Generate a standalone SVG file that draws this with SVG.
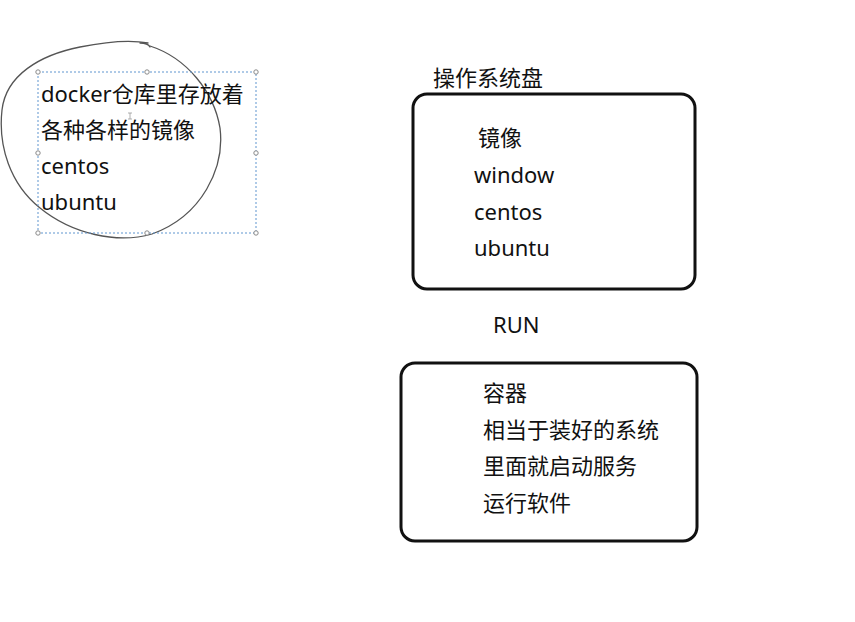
<svg xmlns="http://www.w3.org/2000/svg" width="855" height="622" viewBox="0 0 855 622">
<style>
text{font-family:"Noto Sans","Noto Sans CJK SC",sans-serif;font-size:22px;fill:#111}
.box{fill:none;stroke:#111;stroke-width:3}
.sel{fill:none;stroke:#5f95cf;stroke-width:1;stroke-dasharray:2 2}
.h{fill:#fff;stroke:#8a8a8a;stroke-width:1}
.pen{fill:none;stroke:#555;stroke-width:1.3;stroke-linecap:round}
</style>
<rect width="855" height="622" fill="#fff"/>
<g id="repo">
<path class="pen" d="M150 46 C187 58,214 92,220 128 C225 168,202 216,152 234 C117 244,72 234,40 208 C10 184,-2 146,2 110 C6 75,40 55,80 47 C110 41,132 40,148 43"/>
<path class="pen" d="M140 43 Q148 43 150 47"/>
<rect class="sel" x="38" y="72" width="218" height="161"/>
<circle class="h" cx="38" cy="72" r="2.2"/><circle class="h" cx="147" cy="72" r="2.2"/><circle class="h" cx="256" cy="72" r="2.2"/>
<circle class="h" cx="38" cy="153" r="2.2"/><circle class="h" cx="256" cy="153" r="2.2"/>
<circle class="h" cx="38" cy="233" r="2.2"/><circle class="h" cx="147" cy="233" r="2.2"/><circle class="h" cx="256" cy="233" r="2.2"/>
<path d="M128 113h4M130 113v6M128 119h4" stroke="#999" stroke-width="0.8" fill="none"/>
<text x="41" y="102">docker仓库里存放着</text>
<text x="41" y="138">各种各样的镜像</text>
<text x="41" y="174">centos</text>
<text x="41" y="210">ubuntu</text>
</g>
<g id="osdisk">
<text x="433" y="86">操作系统盘</text>
<rect class="box" x="413" y="94" width="282" height="195" rx="14"/>
<text x="478" y="146">镜像</text>
<text x="474" y="183">window</text>
<text x="474" y="220">centos</text>
<text x="474" y="256">ubuntu</text>
</g>
<g id="run">
<text x="493" y="333">RUN</text>
</g>
<g id="container">
<rect class="box" x="401" y="363" width="296" height="178" rx="14"/>
<text x="483" y="401">容器</text>
<text x="483" y="438">相当于装好的系统</text>
<text x="483" y="474">里面就启动服务</text>
<text x="483" y="511">运行软件</text>
</g>
<g id="connectors"/>
</svg>
